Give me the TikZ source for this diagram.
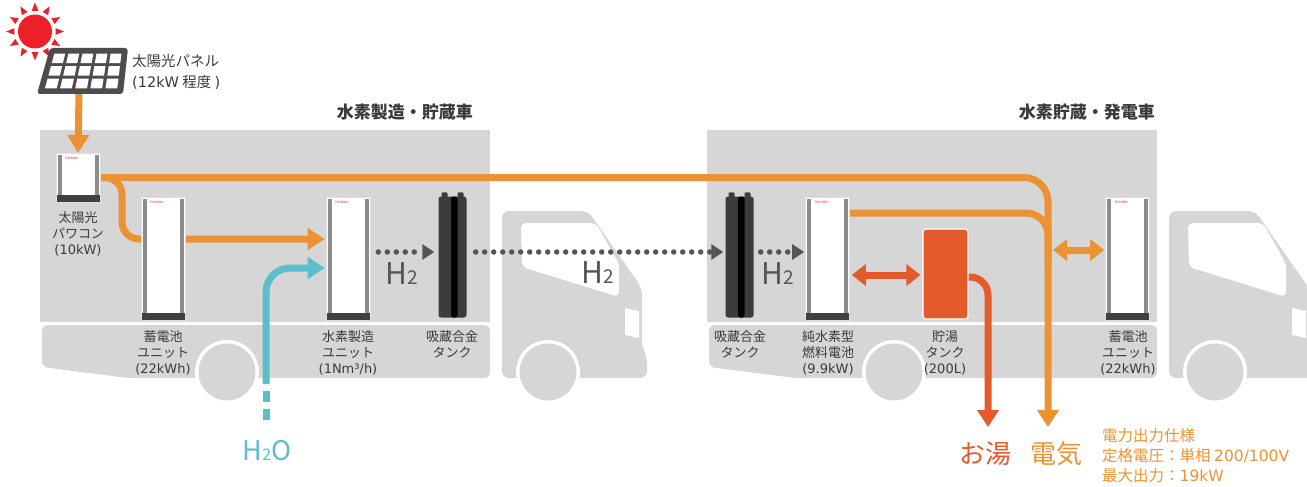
\documentclass[tikz,border=0pt]{standalone}
\usepackage{fontspec}
\setmainfont{Noto Sans CJK JP}
\newfontfamily\latfont{DejaVu Sans}
\usetikzlibrary{arrows.meta,calc}

\definecolor{truckgray}{HTML}{D6D6D6}
\definecolor{elecorange}{HTML}{EC9232}
\definecolor{hotred}{HTML}{E35B2B}
\definecolor{waterblue}{HTML}{5DBDCB}
\definecolor{h2gray}{HTML}{555555}
\definecolor{txtgray}{HTML}{3A3A3A}
\definecolor{sunred}{HTML}{EC2027}
\definecolor{panelgray}{HTML}{4D4D4D}
\definecolor{tankdark}{HTML}{3C3C3C}
\definecolor{stripegray}{HTML}{8C8C8C}
\definecolor{bardark}{HTML}{404040}

\pgfdeclarelayer{bg}
\pgfdeclarelayer{lines}
\pgfsetlayers{bg,lines,main}

% Latin parts of the labels
\newcommand\lt[1]{{\latfont #1}}

\tikzset{
  unitbox/.style={rectangle, fill=white, draw=black!12, line width=0.6pt,
    minimum width=44pt, minimum height=123pt, inner sep=0pt,
    path picture={
      \fill[stripegray] ($(path picture bounding box.north west)+(1.5,2)$) rectangle ($(path picture bounding box.south west)+(5.5,-7)$);
      \fill[stripegray] ($(path picture bounding box.north east)+(-5.5,2)$) rectangle ($(path picture bounding box.south east)+(-1.5,-7)$);
      \fill[bardark] ($(path picture bounding box.south west)+(0,-7)$) rectangle (path picture bounding box.south east);
    }},
  logo/.style={text=sunred, font=\latfont\fontsize{3}{3}\selectfont, anchor=north west, inner sep=0pt},
  tankbox/.style={rectangle, rounded corners=2.5pt, fill=tankdark,
    minimum width=28pt, minimum height=121pt, inner sep=0pt,
    path picture={
      \fill[black] ($(path picture bounding box.north)+(-1.5,0)$) rectangle ($(path picture bounding box.south)+(5,0)$);
    }},
  hwtbox/.style={rectangle, rounded corners=3pt, fill=hotred, draw=white, line width=1.2pt,
    minimum width=45pt, minimum height=90pt, inner sep=0pt},
  lbl/.style={font=\fontsize{13}{16}\selectfont, text=txtgray, align=center, inner sep=0pt, anchor=north},
  titletxt/.style={font=\bfseries\fontsize{17}{17}\selectfont, text=txtgray, inner sep=0pt, anchor=east},
  h2lbl/.style={font=\fontsize{30}{30}\selectfont, text=h2gray, inner sep=0pt},
  elec/.style={draw=elecorange, line width=7pt},
  hot/.style={draw=hotred, line width=7pt},
  water/.style={draw=waterblue, line width=7pt},
  bigtip/.tip={Triangle[width=21pt,length=17pt]},
  duotip/.tip={Triangle[width=21pt,length=14pt]},
  h2flow/.style={draw=h2gray, line width=5.5pt, line cap=round, dash pattern=on 0pt off 9pt,
    -{Triangle[width=15pt,length=12pt]}},
}

\begin{document}
\begin{tikzpicture}[x=1pt, y=-1pt,
  declare function={px(\x,\y)=50+78*\x-13*\y+8*\x*\y; py(\y)=48+46*\y;}]
\useasboundingbox (0,0) rectangle (1307,487);
\clip (0,0) rectangle (1307,487);

% ---- the two trucks ----
\begin{pgfonlayer}{bg}
\foreach \dx in {0,667}{
  \begin{scope}[shift={(\dx,0)}]
    \fill[truckgray] (40,130) rectangle (490,322);
    \fill[truckgray, rounded corners=6] (42,325) -- (490,325) -- (490,378) -- (128,378) -- (42,367) -- cycle;
    \fill[truckgray, rounded corners=7] (502,378) -- (502,211) -- (588,211) -- (642,288) -- (642,348) -- (647,356) -- (647,378) -- cycle;
    \fill[white, rounded corners=5] (521,223) -- (596,223) -- (619,264) -- (619,297) -- (522,267) -- cycle;
    \fill[white] (625,308) -- (639,311) -- (639,338) -- (625,335) -- cycle;
    \foreach \wx in {227,548}{
      \fill[white] (\wx,372) circle (32);
      \fill[truckgray] (\wx,372) circle (28.5);
    }
  \end{scope}
}
\end{pgfonlayer}

% ---- sun and solar panel ----
\fill[sunred] (35,31.5) circle (17);
\foreach \a in {0,30,...,330}
  \fill[sunred] ($(35,31.5)+(\a:29)$) -- ($(35,31.5)+(\a+9:21)$) -- ($(35,31.5)+(\a-9:21)$) -- cycle;
\fill[panelgray, rounded corners=3] (50,48) -- (128,48) -- (123,94) -- (37,94) -- cycle;
\foreach \i in {0,...,4}{
  \foreach \j in {0,...,2}{
    \pgfmathsetmacro\ua{0.075+\i*0.178}
    \pgfmathsetmacro\ub{\ua+0.138}
    \pgfmathsetmacro\va{0.12+\j*0.273}
    \pgfmathsetmacro\vb{\va+0.21}
    \fill[white] ({px(\ua,\va)},{py(\va)}) -- ({px(\ub,\va)},{py(\va)}) -- ({px(\ub,\vb)},{py(\vb)}) -- ({px(\ua,\vb)},{py(\vb)}) -- cycle;
  }
}
\coordinate (panelfoot) at (79,93);
\node[anchor=west, align=left, font=\fontsize{14.5}{21}\selectfont, text=txtgray, inner sep=0pt]
  (paneltxt) at (132,71.5) {太陽光パネル\\\lt{(12kW} 程度 \lt{)}};

% ---- titles ----
\node[titletxt] (title1) at (473,112) {水素製造・貯蔵車};
\node[titletxt] (title2) at (1155,112) {水素貯蔵・発電車};

% ---- equipment ----
\node[unitbox, minimum height=49pt] (inv) at (78,177.5) {};
\node[unitbox] (bat1) at (163,258.5) {};
\node[unitbox] (h2unit) at (348,258.5) {};
\node[tankbox] (tank1) at (452.5,257) {};
\node[tankbox] (tank2) at (739.5,257) {};
\node[unitbox] (fc) at (827.5,258.5) {};
\node[hwtbox] (hwt) at (945.5,274) {};
\node[unitbox] (bat2) at (1127.5,258.5) {};
\foreach \u in {inv,bat1,h2unit,fc,bat2}
  \node[logo] (\u-logo) at ($(\u.north west)+(9,4)$) {TOSHIBA};
\foreach \t in {tank1,tank2}{
  \fill[tankdark, rounded corners=1] ($(\t.north)+(-11,-4)$) rectangle ($(\t.north)+(-5,2)$);
  \fill[tankdark, rounded corners=1] ($(\t.north)+(5,-4)$) rectangle ($(\t.north)+(11,2)$);
}

% ---- equipment labels ----
\node[lbl] (invlbl) at (78,211) {太陽光\\パワコン\\\lt{(10kW)}};
\node[lbl] (bat1lbl) at (163,330) {蓄電池\\ユニット\\\lt{(22kWh)}};
\node[lbl] (h2unitlbl) at (348,330) {水素製造\\ユニット\\\lt{(1Nm³/h)}};
\node[lbl] (tank1lbl) at (452,330) {吸蔵合金\\タンク};
\node[lbl] (tank2lbl) at (740,330) {吸蔵合金\\タンク};
\node[lbl] (fclbl) at (828,330) {純水素型\\燃料電池\\\lt{(9.9kW)}};
\node[lbl] (hwtlbl) at (945,330) {貯湯\\タンク\\\lt{(200L)}};
\node[lbl] (bat2lbl) at (1128,330) {蓄電池\\ユニット\\\lt{(22kWh)}};

% ---- outputs and specification ----
\node[font=\fontsize{26}{26}\selectfont, text=hotred, inner sep=0pt] (oyu) at (985,454) {お湯};
\node[font=\fontsize{26}{26}\selectfont, text=elecorange, inner sep=0pt] (denki) at (1056,454) {電気};
\node[anchor=north west, align=left, font=\fontsize{15.5}{20}\selectfont, text=elecorange, inner sep=0pt]
  (spec) at (1102,428) {電力出力仕様\\定格電圧：単相 \lt{200/100V}\\最大出力：\lt{19kW}};
\node[font=\fontsize{27}{27}\selectfont, text=waterblue, inner sep=0pt] (h2o) at (267,451)
  {H{\fontsize{16}{16}\selectfont 2}O};

% ---- hydrogen labels ----
\node[h2lbl] (h2a) at (402,274) {H{\fontsize{19}{19}\selectfont 2}};
\node[h2lbl] (h2b) at (598,273) {H{\fontsize{19}{19}\selectfont 2}};
\node[h2lbl] (h2c) at (778,274) {H{\fontsize{19}{19}\selectfont 2}};

% ---- flows ----
\coordinate (elecend) at (1048,427);
\coordinate (hotend) at (988,427);
\coordinate (wtop) at (266,384);
\begin{pgfonlayer}{lines}
  % solar power
  \draw[elec, -{Triangle[width=21pt,length=18pt]}] (panelfoot) -- (inv.north |- 0,153);
  \draw[elec, rounded corners=24, -bigtip] (inv.east) -- (inv.east -| elecend) -- (elecend);
  \draw[elec, rounded corners=17, -bigtip] (inv.east) -- (122,177.5) -- (122,239) -- ($(h2unit.west)+(-1,-19.5)$);
  % fuel cell power
  \draw[elec, rounded corners=22] ($(fc.east)+(-2,-45.5)$) -- ($(elecend)+(0,-214)$) -- ($(elecend)+(0,-160)$);
  \draw[elec, duotip-duotip] ($(elecend)+(5,-177)$) -- ($(bat2.west)+(-1,-8.5)$);
  % hot water
  \draw[hot, duotip-duotip] ($(fc.east)+(2,16.5)$) -- ($(hwt.west)+(-2,1)$);
  \draw[hot, rounded corners=18, -bigtip] ($(hwt.east)+(-3,3)$) -- ($(hotend)+(0,-150)$) -- (hotend);
  % water
  \draw[water, rounded corners=24, -bigtip] (wtop) -- (266,268) -- ($(h2unit.west)+(-1,9.5)$);
  \draw[water, dash pattern=on 11pt off 7pt] ($(wtop)+(0,7)$) -- ($(wtop)+(0,37)$);
  % hydrogen
  \draw[h2flow] ($(h2unit.east)+(8,-6.5)$) -- ($(tank1.west)+(-4,-5)$);
  \draw[h2flow] ($(tank1.east)+(9,-5)$) -- ($(tank2.west)+(-2,-5)$);
  \draw[h2flow] ($(tank2.east)+(7,-5)$) -- ($(fc.west)+(-1,-6.5)$);
\end{pgfonlayer}
\end{tikzpicture}
\end{document}
